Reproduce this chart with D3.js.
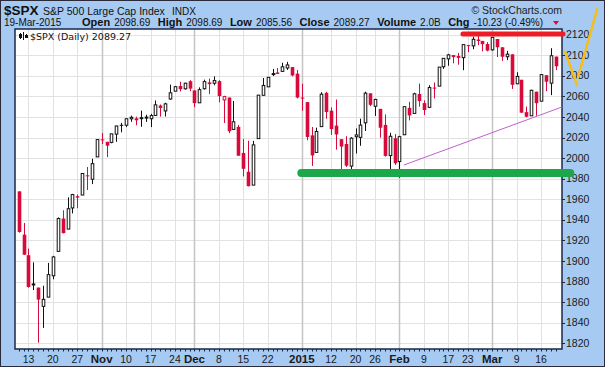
<!DOCTYPE html>
<html><head><meta charset="utf-8">
<script src="https://cdn.jsdelivr.net/npm/d3@7/dist/d3.min.js"></script>
<style>html,body{margin:0;padding:0;background:#fff}svg{display:block}</style>
</head><body>
<script>
const dates = ["2014-10-09","2014-10-10","2014-10-13","2014-10-14","2014-10-15","2014-10-16","2014-10-17","2014-10-20","2014-10-21","2014-10-22","2014-10-23","2014-10-24","2014-10-27","2014-10-28","2014-10-29","2014-10-30","2014-10-31",
"2014-11-03","2014-11-04","2014-11-05","2014-11-06","2014-11-07","2014-11-10","2014-11-11","2014-11-12","2014-11-13","2014-11-14","2014-11-17","2014-11-18","2014-11-19","2014-11-20","2014-11-21","2014-11-24","2014-11-25","2014-11-26","2014-11-28",
"2014-12-01","2014-12-02","2014-12-03","2014-12-04","2014-12-05","2014-12-08","2014-12-09","2014-12-10","2014-12-11","2014-12-12","2014-12-15","2014-12-16","2014-12-17","2014-12-18","2014-12-19","2014-12-22","2014-12-23","2014-12-24","2014-12-26","2014-12-29","2014-12-30","2014-12-31",
"2015-01-02","2015-01-05","2015-01-06","2015-01-07","2015-01-08","2015-01-09","2015-01-12","2015-01-13","2015-01-14","2015-01-15","2015-01-16","2015-01-20","2015-01-21","2015-01-22","2015-01-23","2015-01-26","2015-01-27","2015-01-28","2015-01-29","2015-01-30",
"2015-02-02","2015-02-03","2015-02-04","2015-02-05","2015-02-06","2015-02-09","2015-02-10","2015-02-11","2015-02-12","2015-02-13","2015-02-17","2015-02-18","2015-02-19","2015-02-20","2015-02-23","2015-02-24","2015-02-25","2015-02-26","2015-02-27",
"2015-03-02","2015-03-03","2015-03-04","2015-03-05","2015-03-06","2015-03-09","2015-03-10","2015-03-11","2015-03-12","2015-03-13","2015-03-16","2015-03-17","2015-03-18","2015-03-19"];
const opens = [1967.68,1925.63,1905.65,1877.11,1874.18,1855.95,1864.91,1885.62,1909.38,1941.29,1931.02,1951.59,1962.97,1964.14,1983.29,1979.49,2001.20,
2018.21,2015.81,2015.29,2023.33,2032.36,2032.01,2038.20,2037.75,2039.21,2039.74,2038.29,2041.48,2051.16,2045.87,2057.46,2065.07,2070.15,2067.36,2074.78,
2065.78,2053.77,2067.45,2073.64,2072.78,2074.84,2056.55,2058.86,2027.92,2030.36,2005.03,1986.71,1973.77,2018.98,2061.04,2069.28,2081.48,2083.25,2084.30,2087.63,2088.49,2082.11,
2058.90,2054.44,2022.15,2005.55,2030.61,2063.45,2046.13,2031.58,2018.40,2013.75,1992.25,2020.76,2020.19,2034.30,2062.98,2050.42,2047.86,2032.34,2002.45,2019.35,
1996.67,2022.71,2048.86,2043.45,2062.28,2053.47,2049.38,2068.55,2069.98,2088.78,2096.47,2099.16,2099.25,2097.65,2109.83,2109.10,2115.30,2113.91,2110.88,
2105.23,2115.76,2107.72,2098.54,2100.91,2072.25,2076.14,2044.69,2041.10,2064.56,2055.35,2080.59,2072.84,2098.69];
const highs = [1967.68,1936.98,1912.09,1898.71,1874.18,1876.01,1898.16,1905.03,1942.45,1949.31,1961.95,1965.27,1964.64,1985.05,1991.40,1999.40,2018.19,
2024.46,2015.98,2023.77,2031.61,2034.26,2038.70,2041.28,2040.33,2046.18,2042.22,2043.07,2056.08,2052.14,2053.84,2071.46,2070.17,2074.21,2073.29,2075.76,
2065.78,2068.77,2076.28,2077.34,2079.47,2075.78,2060.60,2058.86,2055.53,2032.25,2018.69,2016.89,2016.75,2061.23,2077.85,2078.76,2086.73,2087.56,2092.70,2093.55,2088.49,2085.58,
2072.36,2054.44,2030.25,2029.61,2064.08,2064.43,2049.30,2056.93,2018.40,2021.35,2020.46,2028.94,2038.29,2064.62,2062.98,2057.62,2047.86,2042.49,2024.64,2023.32,
2021.66,2050.30,2054.74,2063.55,2072.40,2056.16,2070.86,2073.48,2088.53,2097.03,2101.30,2100.23,2102.13,2110.61,2110.05,2117.94,2119.59,2113.91,2112.74,
2117.52,2115.76,2107.72,2104.25,2100.91,2083.49,2076.14,2050.08,2066.41,2064.56,2081.41,2080.59,2106.85,2098.69];
const lows = [1927.56,1906.05,1874.14,1871.79,1820.66,1835.02,1864.91,1882.30,1909.38,1926.83,1931.02,1946.27,1951.37,1964.14,1969.04,1974.75,2001.20,
2013.68,2001.01,2014.42,2015.86,2025.07,2030.17,2035.28,2031.95,2030.44,2035.20,2030.20,2041.48,2040.37,2040.49,2056.75,2065.07,2064.75,2066.62,2065.06,
2049.57,2053.77,2066.65,2062.34,2070.81,2054.27,2034.17,2024.26,2027.92,2002.33,1982.26,1972.56,1973.77,2018.98,2061.03,2069.28,2079.77,2081.86,2084.30,2085.75,2079.53,2057.94,
2046.04,2017.34,1992.44,2005.55,2030.61,2038.33,2022.58,2008.25,1988.44,1991.47,1988.12,2004.49,2012.04,2026.38,2050.54,2040.97,2019.91,2001.49,1989.18,1993.38,
1980.90,2022.71,2036.72,2043.45,2049.97,2041.88,2048.62,2057.99,2069.98,2086.70,2089.80,2092.15,2090.79,2085.44,2103.00,2105.87,2109.89,2103.76,2103.75,
2104.50,2098.26,2094.49,2095.22,2067.27,2072.21,2044.16,2039.69,2041.10,2041.17,2055.35,2065.08,2061.23,2085.56];
const closes = [1928.21,1906.13,1874.74,1877.70,1862.49,1862.76,1886.76,1904.01,1941.28,1927.11,1950.82,1964.58,1961.63,1985.05,1982.30,1994.65,2018.05,
2017.81,2012.10,2023.57,2031.21,2031.92,2038.26,2039.68,2038.25,2039.33,2039.82,2041.32,2051.80,2048.72,2052.75,2063.50,2069.41,2067.03,2072.83,2067.56,
2053.44,2066.55,2074.33,2071.92,2075.37,2060.31,2059.82,2026.14,2035.33,2002.33,1989.63,1972.74,2012.89,2061.23,2070.65,2078.54,2082.17,2081.88,2088.77,2090.57,2080.35,2058.90,
2058.20,2020.58,2002.61,2025.90,2062.14,2044.81,2028.26,2023.03,2011.27,1992.67,2019.42,2022.55,2032.12,2063.15,2051.82,2057.09,2029.55,2002.16,2021.25,1994.99,
2020.85,2050.03,2041.51,2062.52,2055.47,2046.74,2068.59,2068.53,2088.48,2096.99,2100.34,2099.68,2097.45,2110.30,2109.66,2115.48,2113.86,2110.74,2104.50,
2117.39,2107.78,2098.53,2101.04,2071.26,2079.43,2044.16,2040.24,2065.95,2053.40,2081.19,2074.28,2099.50,2089.27];
const prevCloseBefore = 1968.89;

const yTicks = [1820,1840,1860,1880,1900,1920,1940,1960,1980,2000,2020,2040,2060,2080,2100,2120];
const xTickDates = ["2014-10-13","2014-10-20","2014-10-27","2014-11-03","2014-11-10","2014-11-17","2014-11-24","2014-12-01","2014-12-08","2014-12-15","2014-12-22","2015-01-02","2015-01-12","2015-01-20","2015-01-26","2015-02-02","2015-02-09","2015-02-17","2015-02-23","2015-03-02","2015-03-09","2015-03-16"];
const xTickLabels = ["13","20","27","Nov","10","17","24","Dec","8","15","22","2015","12","20","26","Feb","9","17","23","Mar","9","16"];
const majorLabels = ["Nov","Dec","2015","Feb","Mar"];

// annotation lines (day index, price)
const resistance = [[91.0, 2120.6],[111.5, 2120.6]];
const support = [[57.9, 1985.5],[113.0, 1985.5]];
const trendline = [[78.9, 1993.3],[111.3, 2049.7]];
const checkA = [[111.95, 2103.1],[114.4, 2071.0]];
const checkB = [[114.6, 2078.8],[118.5, 2144.9]];

const W = 605, H = 367;
const L = 15, R = 562, T = 29, B = 349;
const svg = d3.select("body").append("svg").attr("width", W).attr("height", H);

svg.append("rect").attr("x",0.5).attr("y",0.5).attr("width",W-1).attr("height",H-1)
  .attr("fill","#a6caf2").attr("stroke","#2a2a3a");

const x = d3.scaleLinear().domain([-0.76, 111.3]).range([L, R]);
const y = d3.scaleLinear().domain([1814.5, 2125.5]).range([B, T]);
const idx = d => dates.indexOf(d);

svg.append("rect").attr("x",L).attr("y",T).attr("width",R-L).attr("height",B-T).attr("fill","#fff");

svg.append("clipPath").attr("id","pc").append("rect").attr("x",L).attr("y",T).attr("width",R-L).attr("height",B-T);

// grid
const g = svg.append("g");
g.selectAll("line.hg").data(yTicks).join("line")
  .attr("x1",L).attr("x2",R).attr("y1",d=>Math.round(y(d))+0.5).attr("y2",d=>Math.round(y(d))+0.5)
  .attr("stroke","#e2e2e2").attr("stroke-width",1);
g.selectAll("line.vg").data(xTickDates).join("line")
  .attr("x1",d=>Math.round(x(idx(d)))+0.5).attr("x2",d=>Math.round(x(idx(d)))+0.5).attr("y1",T).attr("y2",B)
  .attr("stroke",(d,i)=>majorLabels.includes(xTickLabels[i])?"#c4c4c4":"#e2e2e2")
  .attr("stroke-width",(d,i)=>majorLabels.includes(xTickLabels[i])?1.5:1);

// candles
const cg = svg.append("g").attr("clip-path","url(#pc)");
const bw = 3.6;
dates.forEach((d,i)=>{
  const o=opens[i], h=highs[i], l=lows[i], c=closes[i];
  const pc = i===0 ? prevCloseBefore : closes[i-1];
  const col = c < pc ? "#d8093b" : "#111";
  const cx = Math.round(x(i))+0.5;
  cg.append("line").attr("x1",cx).attr("x2",cx).attr("y1",y(h)).attr("y2",y(l)).attr("stroke",col).attr("stroke-width",1);
  const top = y(Math.max(o,c)), bot = y(Math.min(o,c));
  const hgt = Math.max(bot-top, 1);
  if (c < o) {
    cg.append("rect").attr("x",cx-bw/2).attr("y",top).attr("width",bw).attr("height",hgt).attr("fill",col);
  } else {
    cg.append("rect").attr("x",cx-bw/2+0.5).attr("y",top).attr("width",bw-1).attr("height",Math.max(hgt,1)).attr("fill","#fff").attr("stroke",col).attr("stroke-width",1);
  }
});

// frame
svg.append("rect").attr("x",L).attr("y",T).attr("width",R-L).attr("height",B-T).attr("fill","none").attr("stroke","#1b2748").attr("stroke-width",1.5);

// daily ticks at bottom
svg.selectAll("line.dt").data(dates).join("line")
  .attr("x1",(d,i)=>Math.round(x(i))+0.5).attr("x2",(d,i)=>Math.round(x(i))+0.5).attr("y1",B).attr("y2",B+2.5)
  .attr("stroke","#1b2748").attr("stroke-width",1);

// y axis right
svg.selectAll("line.yt").data(yTicks).join("line")
  .attr("x1",R).attr("x2",R+3).attr("y1",d=>Math.round(y(d))+0.5).attr("y2",d=>Math.round(y(d))+0.5)
  .attr("stroke","#1b2748");
svg.selectAll("text.yl").data(yTicks).join("text")
  .attr("x",R+4).attr("y",d=>y(d)+3.6).text(d=>d)
  .attr("font-family","Liberation Sans, Arial, sans-serif").attr("font-size",10.5).attr("fill","#1a1a1a");

// x labels
svg.selectAll("text.xl").data(xTickDates).join("text")
  .attr("x",d=>x(idx(d))).attr("y",363).attr("text-anchor","middle")
  .text((d,i)=>xTickLabels[i])
  .attr("font-family","Liberation Sans, Arial, sans-serif")
  .attr("font-weight",(d,i)=>majorLabels.includes(xTickLabels[i])?"bold":"normal")
  .attr("font-size",(d,i)=>majorLabels.includes(xTickLabels[i])?11.5:10.5).attr("fill","#1a1a1a");

// annotations
const line = d3.line().x(p=>x(p[0])).y(p=>y(p[1]));
svg.append("path").attr("d",line(support)).attr("stroke","#1ca84a").attr("stroke-width",8).attr("stroke-linecap","round").attr("fill","none");
svg.append("path").attr("d",line(trendline)).attr("stroke","#c15fd0").attr("stroke-width",1).attr("fill","none");
svg.append("path").attr("d",line(resistance)).attr("stroke","#ee1c25").attr("stroke-width",5).attr("stroke-linecap","round").attr("fill","none");
svg.append("path").attr("d",line(checkA)).attr("stroke","#f7be16").attr("stroke-width",2.5).attr("stroke-linecap","round").attr("fill","none");
svg.append("path").attr("d",line(checkB)).attr("stroke","#f7be16").attr("stroke-width",2.5).attr("stroke-linecap","round").attr("fill","none");

// legend inside plot
const lg = svg.append("g");
[[20,33,39],[23,32,40],[26,34,38]].forEach(a=>{
  lg.append("line").attr("x1",a[0]+0.5).attr("x2",a[0]+0.5).attr("y1",a[1]).attr("y2",a[2]).attr("stroke","#111");
});
lg.append("rect").attr("x",19).attr("y",34).attr("width",3).attr("height",4).attr("fill","#111");
lg.append("rect").attr("x",25).attr("y",35).attr("width",3).attr("height",3).attr("fill","#111");
svg.append("text").attr("x",30).attr("y",40).text("$SPX (Daily) " + closes[closes.length-1].toFixed(2))
  .attr("font-family","DejaVu Sans, Verdana, sans-serif").attr("font-size",9.5).attr("fill","#111");

// header
const F = "Liberation Sans, Arial, sans-serif";
svg.append("text").attr("x",4).attr("y",15).text("$SPX").attr("font-family",F).attr("font-weight","bold").attr("font-size",13.5).attr("fill","#111");
svg.append("text").attr("x",43).attr("y",15).text("S&P 500 Large Cap Index").attr("font-family",F).attr("font-size",10.5).attr("fill","#111");
svg.append("text").attr("x",172).attr("y",15).text("INDX").attr("font-family",F).attr("font-size",10).attr("fill","#111");
svg.append("text").attr("x",562).attr("y",14).attr("text-anchor","end").text("© StockCharts.com").attr("font-family",F).attr("font-size",10.5).attr("fill","#222");

const last = closes.length-1;
const chg = closes[last]-closes[last-1];
svg.append("text").attr("x",4).attr("y",26).text("19-Mar-2015").attr("font-family",F).attr("font-size",10).attr("fill","#111");
const row2 = [
  ["Open",true],[opens[last].toFixed(2),false],
  ["High",true],[highs[last].toFixed(2),false],
  ["Low",true],[lows[last].toFixed(2),false],
  ["Close",true],[closes[last].toFixed(2),false],
  ["Volume",true],["2.0B",false],
  ["Chg",true],[chg.toFixed(2)+" ("+(chg/closes[last-1]*100).toFixed(2)+"%)",false]
];
const t2 = svg.append("text").attr("x",82).attr("y",26).attr("font-family",F).attr("fill","#111");
row2.forEach((r,i)=>{
  t2.append("tspan").attr("dx", i===0?0:(r[1]?7.5:4))
    .attr("font-weight",r[1]?"bold":"normal").attr("font-size",r[1]?11:10).text(r[0]);
});
svg.append("path").attr("d","M553,21 L559,21 L556,25 Z").attr("fill","#d8093b");
</script>
</body></html>
